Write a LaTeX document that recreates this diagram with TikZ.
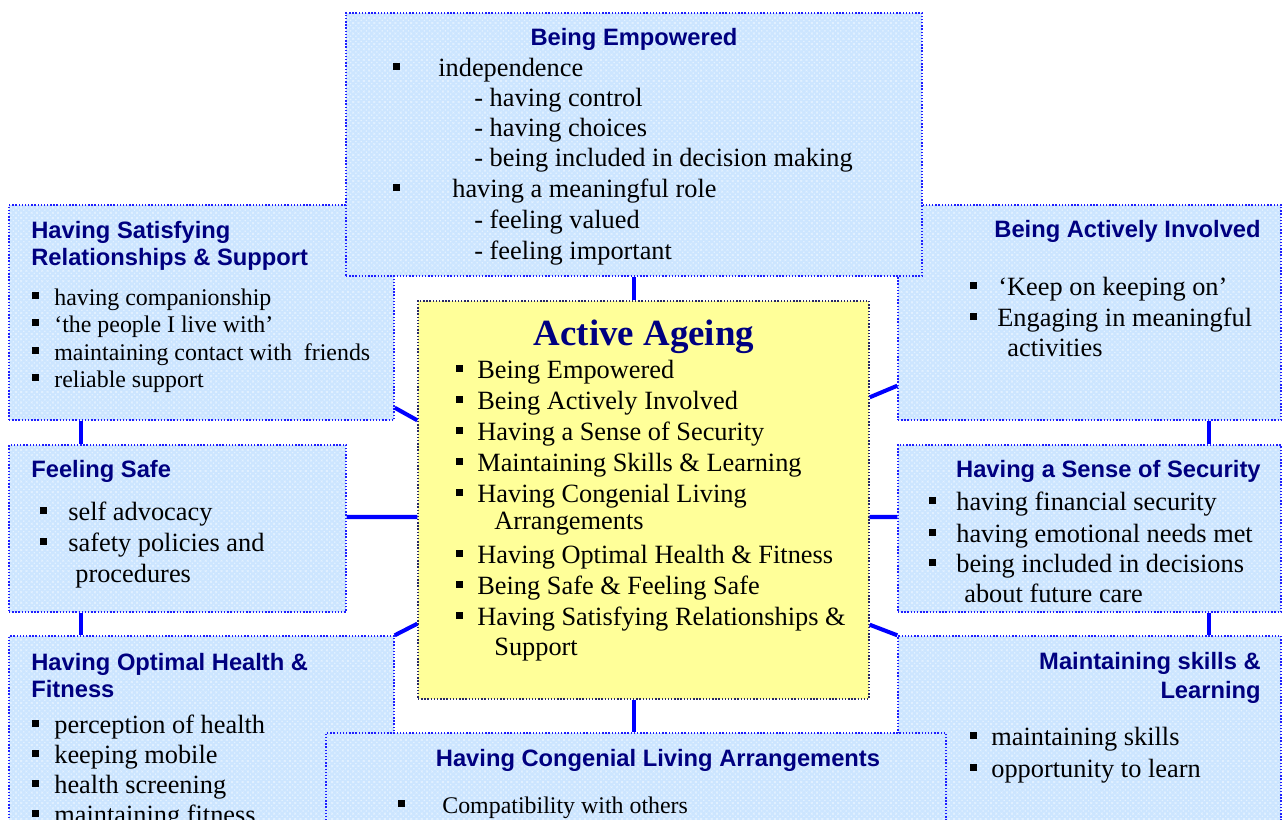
\documentclass[tikz,border=0pt]{standalone}
\usepackage{fontspec}
\setmainfont{Liberation Serif}
\setsansfont{Liberation Sans}
\usetikzlibrary{positioning,calc,fit,patterns}

\definecolor{panelblue}{RGB}{204,229,255}
\definecolor{panelhatch}{RGB}{228,242,255}
\definecolor{paneledge}{RGB}{30,30,255}
\definecolor{coreyellow}{RGB}{255,255,153}
\definecolor{coreedge}{RGB}{40,40,100}
\definecolor{headnavy}{RGB}{0,0,128}
\definecolor{linkblue}{RGB}{0,0,255}

\tikzset{
  panel/.style={draw=paneledge, line width=0.8pt, densely dotted, preaction={fill=panelblue},
    pattern=crosshatch, pattern color=panelhatch, inner sep=0pt},
  corebox/.style={draw=coreedge, line width=0.8pt, densely dotted, fill=coreyellow, inner sep=0pt},
  link/.style={draw=linkblue, line width=2.3pt},
  head/.style={font=\sffamily\bfseries\fontsize{13.5}{16}\selectfont, text=headnavy, inner sep=0pt, anchor=base west},
  body/.style={font=\fontsize{15}{18}\selectfont, inner sep=0pt, anchor=base west},
  small/.style={font=\fontsize{13.6}{16}\selectfont, inner sep=0pt, anchor=base west},
}

\begin{document}
\begin{tikzpicture}[x=0.02cm, y=-0.02cm]
    \useasboundingbox (0,0) rectangle (1282,819);
    \clip (0,0) rectangle (1282,819);

    % Side panels
    \node[panel, fit={(9,205) (394,420)}] (sat) {};
    \node[panel, fit={(898,205) (1281,420)}] (active) {};
    \node[panel, fit={(9,445) (346,612)}] (safe) {};
    \node[panel, fit={(898,445) (1281,612)}] (security) {};
    \node[panel, fit={(9,636) (394,830)}] (health) {};
    \node[panel, fit={(898,636) (1281,830)}] (maint) {};

    % Top and bottom panels lie over the corners
    \node[panel, fit={(346,13) (922,276)}] (emp) {};
    \node[panel, fit={(326,733) (946,830)}] (cong) {};

    % Centre box
    \node[corebox, fit={(418,301) (869,699)}] (core) {};

    % Links
    \draw[link] (emp.south) -- (emp.south |- core.north);
    \draw[link] (emp.south |- core.south) -- (emp.south |- cong.north);
    \draw[link] ($(safe.east)+(0,-11.5)$) -- ($(core.west)+(0,17)$);
    \draw[link] ($(core.east)+(0,17)$) -- ($(security.west)+(0,-11.5)$);
    \draw[link] ($(sat.south east)+(0,-13)$) -- ($(core.north west)+(0,120)$);
    \draw[link] ($(core.north east)+(0,97)$) -- ($(active.south west)+(0,-35)$);
    \draw[link] (health.north east) -- ($(core.south west)+(0,-76)$);
    \draw[link] ($(core.south east)+(0,-75)$) -- (maint.north west);
    \draw[link] ($(sat.south west)+(73,0)$) -- ($(safe.north west)+(73,0)$);
    \draw[link] ($(safe.south west)+(73,0)$) -- ($(health.north west)+(73,0)$);
    \draw[link] ($(active.south west)+(312,0)$) -- ($(security.north west)+(312,0)$);
    \draw[link] ($(security.south west)+(312,0)$) -- ($(maint.north west)+(312,0)$);

    % Being Empowered
    \node[head, anchor=base] (emphead) at (634,45) {Being Empowered};
    \foreach \y in {76,197}
        \fill (396,\y-9.5) +(-3.5,-3.5) rectangle +(3.5,3.5);
    \foreach \x/\y/\txt in {438/76/{independence}, 474/106/{- having control},
        474/136/{- having choices}, 474/166/{- being included in decision making},
        452/197/{having a meaningful role}, 474/228/{- feeling valued}, 474/259/{- feeling important}}
        \node[body] at (\x,\y) {\txt};

    % Relationships
    \node[head] (sathead) at (31,238) {Having Satisfying};
    \node[head] at (31,265) {Relationships \& Support};
    \foreach \y/\txt in {305/{having companionship}, 332/{‘the people I live with’},
        360/{maintaining contact with~ friends}, 387/{reliable support}} {
        \fill (35.5,\y-9.5) +(-3.3,-3.3) rectangle +(3.3,3.3);
        \node[small] at (54,\y) {\txt};
    }

    % Feeling safe
    \node[head] (safehead) at (31,477) {Feeling Safe};
    \foreach \y in {520,551}
        \fill (43.5,\y-9.5) +(-3.5,-3.5) rectangle +(3.5,3.5);
    \node[body] at (68,520) {self advocacy};
    \node[body] at (68,551) {safety policies and};
    \node[body] at (75,582) {procedures};

    % Health
    \node[head] (healthhead) at (31,670) {Having Optimal Health \&};
    \node[head] at (31,697) {Fitness};
    \foreach \y/\txt in {733/{perception of health}, 763/{keeping mobile},
        793/{health screening}, 823/{maintaining fitness}} {
        \fill (35.5,\y-9.5) +(-3.5,-3.5) rectangle +(3.5,3.5);
        \node[body] at (54,\y) {\txt};
    }

    % Living arrangements
    \node[head, anchor=base] (conghead) at (658,766) {Having Congenial Living Arrangements};
    \fill (401.5,803.5) +(-3.3,-3.3) rectangle +(3.3,3.3);
    \node[small] at (442,813) {Compatibility with others};

    % Actively involved
    \node[head, anchor=base east] (activehead) at (1261,237) {Being Actively Involved};
    \foreach \y in {295,326}
        \fill (973,\y-9.5) +(-3.5,-3.5) rectangle +(3.5,3.5);
    \node[body] at (998,295) {‘Keep on keeping on’};
    \node[body] at (997,326) {Engaging in meaningful};
    \node[body] at (1007,356) {activities};

    % Security
    \node[head, anchor=base east] (securityhead) at (1261,477) {Having a Sense of Security};
    \foreach \y/\txt in {510/{having financial security}, 542/{having emotional needs met},
        572/{being included in decisions}} {
        \fill (932,\y-9.5) +(-3.5,-3.5) rectangle +(3.5,3.5);
        \node[body] at (956,\y) {\txt};
    }
    \node[body] at (964,602) {about future care};

    % Skills
    \node[head, anchor=base east] (mainthead) at (1261,669) {Maintaining skills \&};
    \node[head, anchor=base east] at (1261,698) {Learning};
    \foreach \y/\txt in {745/{maintaining skills}, 777/{opportunity to learn}} {
        \fill (973,\y-9.5) +(-3.5,-3.5) rectangle +(3.5,3.5);
        \node[body] at (991,\y) {\txt};
    }

    % Active Ageing
    \node[font=\bfseries\fontsize{21}{25}\selectfont, text=headnavy, inner sep=0pt, anchor=base]
        (corehead) at (644,345) {Active Ageing};
    \foreach \y/\txt in {378/{Being Empowered}, 409/{Being Actively Involved},
        440/{Having a Sense of Security}, 471/{Maintaining Skills \& Learning},
        502/{Having Congenial Living}, 563/{Having Optimal Health \& Fitness},
        594/{Being Safe \& Feeling Safe}, 625/{Having Satisfying Relationships \&}} {
        \fill (459.5,\y-9.5) +(-3.5,-3.5) rectangle +(3.5,3.5);
        \node[body] at (477,\y) {\txt};
    }
    \node[body] at (494,529) {Arrangements};
    \node[body] at (494,655) {Support};
\end{tikzpicture}
\end{document}
